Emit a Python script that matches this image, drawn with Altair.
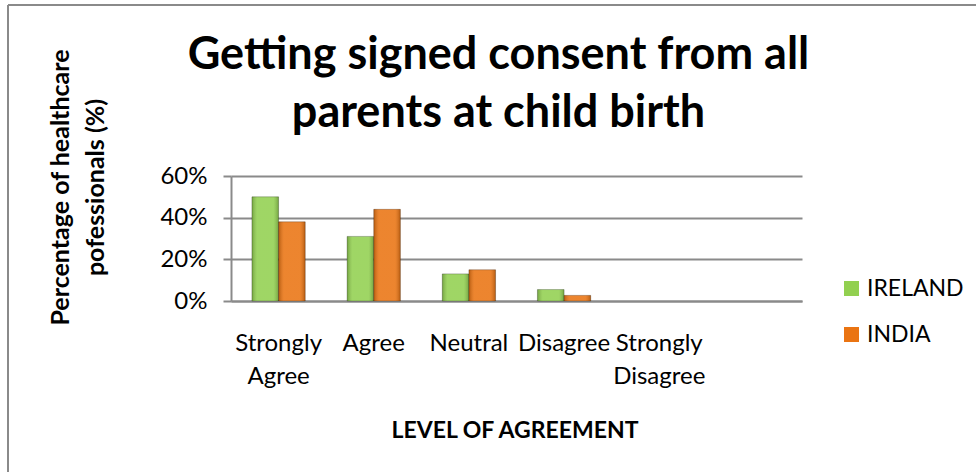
import altair as alt
import pandas as pd

categories = ["Strongly Agree", "Agree", "Neutral", "Disagree", "Strongly Disagree"]
ireland = [0.50, 0.31, 0.13, 0.055, 0.0]
india = [0.38, 0.44, 0.15, 0.027, 0.0]
series = ["IRELAND", "INDIA"]
colors = ["#92D050", "#EA7412"]
y_ticks = [0, 0.2, 0.4, 0.6]
title_lines = ["Getting signed consent from all", "parents at child birth"]
y_title = ["Percentage of healthcare", "pofessionals (%)"]
x_title = "LEVEL OF AGREEMENT"

rows = []
for c, a, b in zip(categories, ireland, india):
    rows.append({"level": c, "country": "IRELAND", "value": a})
    rows.append({"level": c, "country": "INDIA", "value": b})
df = pd.DataFrame(rows)

FONT = "Lato"
W, H = 571, 125
LEFT, TOP = 231, 176
GRAY = "#8a8a8a"

x_enc = alt.X(
    "level:N",
    sort=categories,
    scale=alt.Scale(domain=categories + [""], paddingInner=0.44, paddingOuter=0.22),
    axis=alt.Axis(
        title=x_title,
        titleFont=FONT, titleFontSize=23, titleFontWeight="bold", titleColor="black",
        titleX=W / 2 - 2, titleY=136, titleAlign="center", titleBaseline="alphabetic",
        labelFont=FONT, labelFontSize=24, labelColor="black",
        labelExpr="split(datum.label, ' ')", labelLineHeight=33,
        labelBaseline="alphabetic", labelPadding=49, labelOverlap=False,
        labelAngle=0, labelLimit=300,
        ticks=False, tickSize=0,
        domainColor=GRAY, domainWidth=2,
        grid=False,
    ),
)
xoff = alt.XOffset("country:N", sort=series,
                   scale=alt.Scale(domain=series, paddingInner=0, paddingOuter=0))
y_enc = alt.Y(
    "value:Q",
    scale=alt.Scale(domain=[0, 0.6], nice=False),
    axis=alt.Axis(
        values=y_ticks, format=".0%",
        title=y_title,
        titleFont=FONT, titleFontSize=25, titleFontWeight="bold", titleColor="black",
        titleAngle=270, titleX=-163, titleY=11, titleAlign="center",
        titleBaseline="alphabetic", titleLineHeight=35,
        labelFont=FONT, labelFontSize=24, labelColor="black", labelPadding=16,
        tickSize=8, tickColor=GRAY, tickWidth=2,
        domainColor=GRAY, domainWidth=2,
        grid=True, gridColor=GRAY, gridWidth=2,
    ),
)

bars = alt.Chart(df).transform_filter("datum.value > 0").mark_bar(
    stroke="rgba(0,0,0,0.25)", strokeWidth=1
).encode(
    x=x_enc,
    xOffset=xoff,
    y=y_enc,
    color=alt.Color(
        "country:N", sort=series,
        scale=alt.Scale(domain=series, range=colors),
        legend=alt.Legend(
            title=None, orient="none", legendX=609, legendY=101,
            symbolType="square", symbolSize=225, symbolStrokeWidth=0,
            labelFont=FONT, labelFontSize=23, labelColor="black",
            labelOffset=4, rowPadding=22, padding=0,
        ),
    ),
)

shade = alt.Chart(df).transform_filter("datum.value > 0").mark_bar(
    color=alt.Gradient(
        gradient="linear",
        stops=[
            alt.GradientStop(color="rgba(0,0,0,0.22)", offset=0),
            alt.GradientStop(color="rgba(255,255,255,0.12)", offset=0.2),
            alt.GradientStop(color="rgba(255,255,255,0.12)", offset=0.8),
            alt.GradientStop(color="rgba(0,0,0,0.22)", offset=1),
        ],
        x1=0, x2=1, y1=0, y2=0,
    )
).encode(x=x_enc, xOffset=xoff, y=y_enc)

frame_df = pd.DataFrame({"k": [0]})
top_border = alt.Chart(frame_df).mark_rule(color=GRAY, strokeWidth=2).encode(
    x=alt.value(8 - LEFT), x2=alt.value(976 - LEFT), y=alt.value(5 - TOP)
)
left_border = alt.Chart(frame_df).mark_rule(color=GRAY, strokeWidth=2).encode(
    x=alt.value(8 - LEFT), y=alt.value(5 - TOP), y2=alt.value(472 - TOP)
)

chart = alt.layer(bars, shade, top_border, left_border).properties(
    width=W,
    height=H,
    title=alt.TitleParams(
        text=title_lines, font=FONT, fontSize=45, fontWeight="bold", color="black",
        anchor="middle", frame="group", baseline="alphabetic", lineHeight=58,
        offset=0, dx=-18, dy=168,
    ),
    autosize=alt.AutoSizeParams(type="none"),
    padding={"left": LEFT, "top": TOP, "right": 976 - LEFT - W, "bottom": 472 - TOP - H},
    background="white",
).configure_view(stroke=None)

chart.save("out.html", embed_options={"renderer": "svg", "actions": False})
